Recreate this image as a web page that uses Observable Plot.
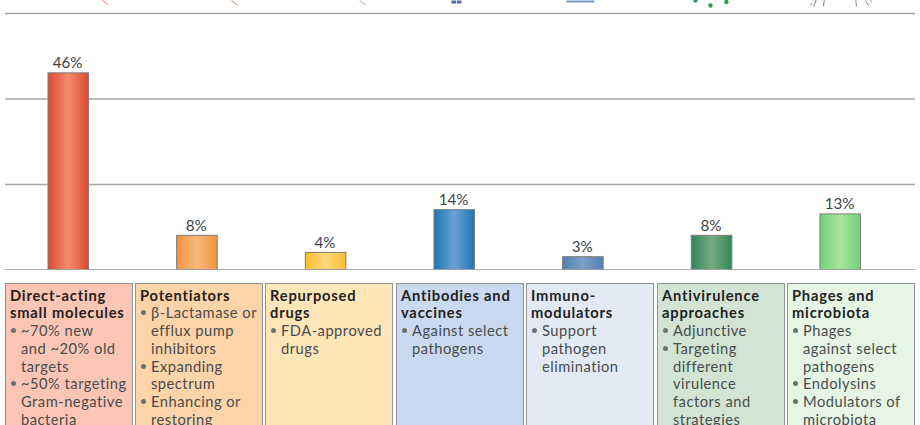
<!DOCTYPE html>
<html><head><meta charset="utf-8">
<script src="https://cdn.jsdelivr.net/npm/d3@7"></script>
<script src="https://cdn.jsdelivr.net/npm/@observablehq/plot@0.6"></script>
<style>
html,body{margin:0;padding:0;background:#fff;width:920px;height:425px;overflow:hidden}
#chart svg{display:block}
#panels{position:absolute;left:0;top:283px;width:920px;height:142px;overflow:hidden;font-family:Lato,sans-serif;font-size:14.7px;line-height:17.75px;color:#474c4e;letter-spacing:0.5px}
.p{position:absolute;top:0;height:170px;box-sizing:border-box;border:1.2px solid #8f9496;padding:2.6px 0 0 4px;white-space:nowrap}
.p b{display:block;font-weight:700;color:#222;letter-spacing:0.8px}
.p div{position:relative;padding-left:11px}
.p div.b::before{content:"";position:absolute;left:1px;top:6px;width:5px;height:5px;border-radius:50%;background:#6b7173}
</style></head><body>
<div id="chart"></div><div id="panels"></div>
<script>
const categories = ["Direct-acting small molecules","Potentiators","Repurposed drugs","Antibodies and vaccines","Immunomodulators","Antivirulence approaches","Phages and microbiota"];
const shares = [46,8,4,14,3,8,13];
const gridValues = [0,20,40,60];
const barEdge = ["#dc4a2d","#f0923f","#fbbd2f","#1b76b6","#4f80b2","#2f8757","#72d27a"];
const barMid = ["#f28c6f","#f7b97c","#fcd87e","#6da2d3","#7f9fc8","#79a984","#a8e69d"];
const panelFill = ["#fdc6b4","#fdd3a8","#fee6b8","#c9d9ef","#e3eaf6","#d2e5d4","#e6f6e5"];
const panelLeft = [5,135,265,396,526,657,787];
const panelRight = [132.5,262.5,393,523.5,654,784.5,915];
const titles = [["Direct-acting","small molecules"],["Potentiators"],["Repurposed","drugs"],["Antibodies and","vaccines"],["Immuno-","modulators"],["Antivirulence","approaches"],["Phages and","microbiota"]];
const bullets = [
 [["~70% new","and ~20% old","targets"],["~50% targeting","Gram-negative","bacteria"]],
 [["β-Lactamase or","efflux pump","inhibitors"],["Expanding","spectrum"],["Enhancing or","restoring"]],
 [["FDA-approved","drugs"]],
 [["Against select","pathogens"]],
 [["Support","pathogen","elimination"]],
 [["Adjunctive"],["Targeting","different","virulence","factors and","strategies"]],
 [["Phages","against select","pathogens"],["Endolysins"],["Modulators of","microbiota"]]
];
// Cropped remains of the icons along the top edge: [category index, offset, value, length, angle, width, colour]
const iconStrokes = [
 [0,39.75,61.99,7.5,-52,1,"#f0a08a"],
 [1,40,61.99,7.5,-52,1,"#c9ab8a"],
 [2,39.5,61.99,7.5,-52,1,"#b9c6a0"],
 [3,-1,62.34,3,0,4.5,"#4a6fa8"],
 [3,4.4,62.34,3,0,4.5,"#4a6fa8"],
 [4,-3,62.57,2,0,28,"#6f9bcb"],
 [6,-30,61.87,2.6,25,1,"#8c8c8c"],
 [6,-27,61.64,7,20,1,"#8c8c8c"],
 [6,-17.3,61.64,6.5,8,1,"#8c8c8c"],
 [6,15.7,61.64,6.5,-5,1,"#8c8c8c"],
 [6,28,61.87,6,-33,1,"#8c8c8c"],
 [6,30.7,62.69,1.7,-30,1,"#8c8c8c"]
];
const iconDots = [[5,-16.6,63.04],[5,-1.6,61.87],[5,14.4,62.69]];
const rows = categories.map((c,i)=>({c,v:shares[i],i}));
const spike = {draw(ctx,l){ctx.moveTo(0,0);ctx.lineTo(0,-l);}};
const defs = () => {
  const d = d3.create("svg:defs");
  barEdge.forEach((e,i)=>{
    const g = d.append("linearGradient").attr("id","g"+i);
    g.append("stop").attr("offset","0").attr("stop-color",e);
    g.append("stop").attr("offset","0.5").attr("stop-color",barMid[i]);
    g.append("stop").attr("offset","1").attr("stop-color",e);
  });
  return d.node();
};
const plot = Plot.plot({
  width:920,height:270,
  marginLeft:5,marginRight:5,marginTop:0,marginBottom:0.5,
  style:{background:"transparent",fontFamily:"Lato,sans-serif"},
  x:{domain:categories,paddingInner:0.685,paddingOuter:0.379,align:0.441,round:false,axis:null},
  y:{domain:[0,63.04],axis:null},
  marks:[
    defs,
    Plot.ruleY(gridValues,{stroke:"#a6a9ab",strokeWidth:1.5}),
    ...iconStrokes.map(([k,dx,v,length,rotate,strokeWidth,stroke])=>
      Plot.vector([{c:categories[k],v}],{x:"c",y:"v",dx,length,rotate,anchor:"start",shape:spike,strokeWidth,stroke,strokeLinecap:"butt"})),
    ...iconDots.map(([k,dx,v])=>Plot.dot([{c:categories[k],v}],{x:"c",y:"v",dx,r:2.2,fill:"#2f9a5c"})),
    Plot.barY(rows,{x:"c",y:"v",fill:{value:d=>`url(#g${d.i})`,scale:null},stroke:"#7d7d7d",strokeWidth:1}),
    Plot.ruleY([0],{stroke:"#a6a9ab",strokeWidth:1.5}),
    Plot.text(rows,{x:"c",y:"v",text:d=>d.v+"%",dy:-10,dx:-1.2,fontSize:15.2,fill:"#3d4345",letterSpacing:0.4})
  ]
});
document.getElementById("chart").append(plot);
const host = document.getElementById("panels");
categories.forEach((c,i)=>{
  const p = document.createElement("div");
  p.className="p";
  p.style.left=panelLeft[i]+"px";
  p.style.width=(panelRight[i]-panelLeft[i])+"px";
  p.style.background=panelFill[i];
  titles[i].forEach(t=>{const b=document.createElement("b");b.textContent=t;p.append(b);});
  bullets[i].forEach(lines=>lines.forEach((l,j)=>{
    const d=document.createElement("div");
    if(j===0)d.className="b";
    d.textContent=l;p.append(d);
  }));
  host.append(p);
});
</script></body></html>
